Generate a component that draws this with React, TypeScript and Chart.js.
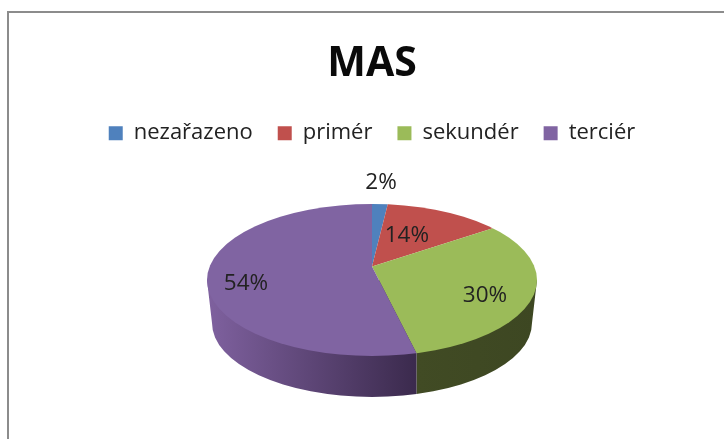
import React, { useEffect, useRef } from "react";
import { Chart, registerables } from "chart.js";

Chart.register(...registerables);

const title = "MAS";
const categories = ["nezařazeno", "primér", "sekundér", "terciér"];
const shares = [2, 14, 30, 54];
const topColours = ["#4f81bd", "#c0504d", "#9bbb59", "#8064a2"];
const sideFrom = ["#2c4a6e", "#6e2d2b", "#414b24", "#7f619f"];
const sideTo = ["#2c4a6e", "#6e2d2b", "#3d4722", "#3b2a4d"];
const labelRadius = [168, 71, 127, 130.5];
const labelTurn = [-0.5, -3, 5.6, -7.9];

const FONT = '"Open Sans", "Noto Sans", sans-serif';
const K = 0.5;
const TOP = { cx: 372, cy: 280, rx: 165, ry: 76 };
const BOTTOM = { cx: 372, cy: 323, rx: 160, ry: 74 };

const pie3d = {
  id: "pie3d",
  beforeDatasetsDraw(chart: any) {
    const ctx = chart.ctx as CanvasRenderingContext2D;
    const arcs = chart.getDatasetMeta(0).data;
    const px = arcs[0].x;
    const py = arcs[0].y;
    const hit = (a: number) => {
      const dx = Math.cos(a);
      const dy = Math.sin(a) * K;
      const ox = (px - TOP.cx) / TOP.rx;
      const oy = (py - TOP.cy) / TOP.ry;
      const ux = dx / TOP.rx;
      const uy = dy / TOP.ry;
      const A = ux * ux + uy * uy;
      const B = 2 * (ox * ux + oy * uy);
      const C = ox * ox + oy * oy - 1;
      const t = (-B + Math.sqrt(B * B - 4 * A * C)) / (2 * A);
      return { x: px + dx * t, y: py + dy * t };
    };
    ctx.save();
    ctx.beginPath();
    ctx.moveTo(TOP.cx - TOP.rx, TOP.cy);
    ctx.lineTo(BOTTOM.cx - BOTTOM.rx, BOTTOM.cy);
    ctx.ellipse(BOTTOM.cx, BOTTOM.cy, BOTTOM.rx, BOTTOM.ry, 0, Math.PI, 0, true);
    ctx.lineTo(TOP.cx + TOP.rx, TOP.cy);
    ctx.closePath();
    ctx.clip();
    arcs.forEach((arc: any, i: number) => {
      let lo = Infinity;
      let hi = -Infinity;
      for (let s = 0; s <= 400; s++) {
        const p = hit(arc.startAngle + ((arc.endAngle - arc.startAngle) * s) / 400);
        if (p.y >= TOP.cy) {
          lo = Math.min(lo, p.x);
          hi = Math.max(hi, p.x);
        }
      }
      if (lo > hi) return;
      const g = ctx.createLinearGradient(lo, 0, hi, 0);
      g.addColorStop(0, sideFrom[i]);
      g.addColorStop(1, sideTo[i]);
      ctx.fillStyle = g;
      ctx.fillRect(lo, TOP.cy, hi - lo, 200);
    });
    ctx.restore();

    ctx.save();
    ctx.beginPath();
    ctx.ellipse(TOP.cx, TOP.cy, TOP.rx, TOP.ry, 0, 0, Math.PI * 2);
    ctx.clip();
    ctx.translate(px, py);
    ctx.scale(1, K);
    ctx.translate(-px, -py);
  },
  afterDatasetsDraw(chart: any) {
    const ctx = chart.ctx as CanvasRenderingContext2D;
    ctx.restore();
    const arcs = chart.getDatasetMeta(0).data;
    ctx.save();
    ctx.font = `22.5px ${FONT}`;
    ctx.fillStyle = "#222222";
    ctx.textAlign = "center";
    ctx.textBaseline = "middle";
    arcs.forEach((arc: any, i: number) => {
      const a = (arc.startAngle + arc.endAngle) / 2 + (labelTurn[i] * Math.PI) / 180;
      ctx.fillText(
        `${shares[i]}%`,
        arc.x + Math.cos(a) * labelRadius[i],
        arc.y + Math.sin(a) * labelRadius[i] * K
      );
    });
    ctx.restore();
  },
};

export default function App() {
  const ref = useRef<HTMLCanvasElement>(null);
  useEffect(() => {
    const chart = new Chart(ref.current!, {
      type: "pie",
      data: {
        labels: categories,
        datasets: [
          {
            data: shares,
            backgroundColor: topColours,
            borderWidth: 0,
            clip: false,
          } as any,
        ],
      },
      options: {
        responsive: false,
        animation: false,
        radius: 210,
        events: [],
        layout: { padding: { left: 20, right: 0, top: 40, bottom: 60 } },
        plugins: {
          tooltip: { enabled: false },
          title: {
            display: true,
            text: title,
            color: "#0a0a0a",
            font: { family: FONT, size: 41, weight: "bold" },
            padding: { top: 0, bottom: 8 },
          },
          legend: {
            position: "top",
            labels: {
              color: "#222222",
              font: { family: FONT, size: 22 },
              boxWidth: 14,
              boxHeight: 14,
              padding: 25,
            },
          },
        },
      } as any,
      plugins: [pie3d],
    });
    return () => chart.destroy();
  }, []);
  return (
    <div style={{ position: "absolute", left: 0, top: 0, width: 724, height: 439, overflow: "hidden", background: "#fff" }}>
      <canvas ref={ref} width={724} height={439} style={{ display: "block" }} />
      <div style={{ position: "absolute", left: 7, top: 11, width: 800, height: 500, borderLeft: "2px solid #8c8c8c", borderTop: "2px solid #8c8c8c", boxSizing: "border-box" }} />
    </div>
  );
}
